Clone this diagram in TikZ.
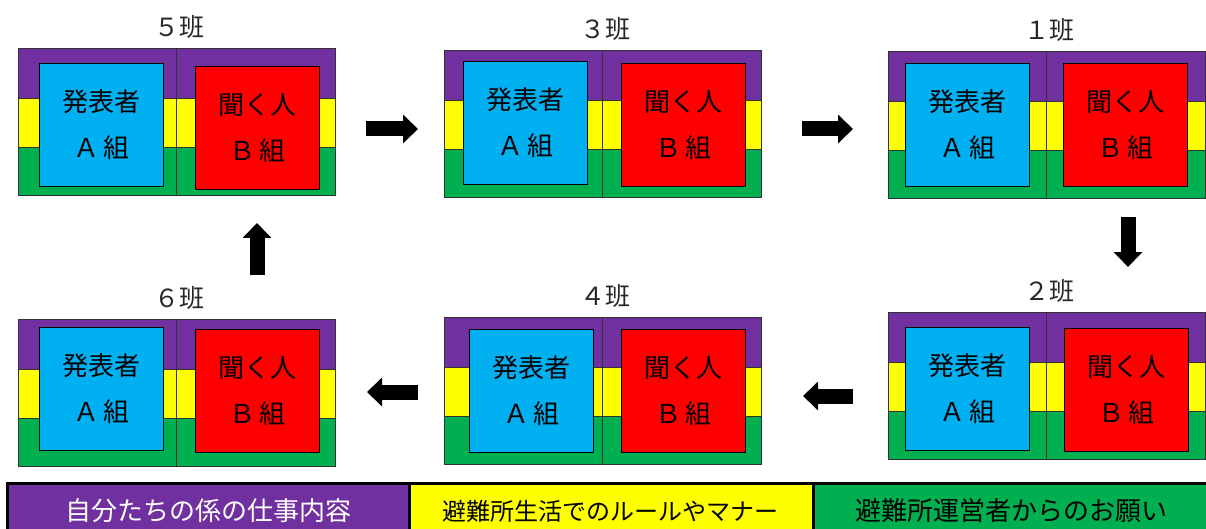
\documentclass[tikz,border=0pt]{standalone}
\usepackage{fontspec}
\setmainfont{Noto Sans CJK JP}
\usetikzlibrary{arrows.meta}
\definecolor{cpur}{HTML}{7030A0}
\definecolor{cyel}{HTML}{FFFF00}
\definecolor{cgrn}{HTML}{00B050}
\definecolor{cblu}{HTML}{00B0F0}
\definecolor{cred}{HTML}{FF0000}
\tikzset{
  band/.style={draw=black!80, line width=0.8pt},
  inbox/.style={draw=black, line width=1.3pt, minimum width=124pt, minimum height=123pt,
    anchor=north west, inner sep=0pt, align=center, text=black,
    font=\fontsize{26}{46}\selectfont},
  grplabel/.style={text=black!85, font=\fontsize{25}{27}\selectfont, inner sep=0pt},
  bigarrow/.style={line width=15pt, -{Triangle[width=28pt,length=15pt]}},
  legbox/.style={draw=black, line width=3pt},
  legtext/.style={inner sep=0pt, font=\fontsize{26}{28}\selectfont},
}
\newcommand\twolines[2]{\raisebox{3pt}{\begin{tabular}{@{}c@{}}#1\\#2\end{tabular}}}
% id, outer x, outer y, blue x, blue y, red x, red y, label
\newcommand\bangroup[8]{%
  \foreach \hx in {0,158}{%
    \draw[band, fill=cpur] ({#2+\hx},#3) rectangle ++(159,50);
    \draw[band, fill=cyel] ({#2+\hx},{#3+50}) rectangle ++(159,49);
    \draw[band, fill=cgrn] ({#2+\hx},{#3+99}) rectangle ++(159,48);
  }
  \node[inbox, fill=cblu] (#1a) at (#4,#5) {\twolines{発表者}{Ａ\hspace{4pt}組}};
  \node[inbox, fill=cred] (#1b) at (#6,#7) {\twolines{聞く人}{Ｂ\hspace{4pt}組}};
  \node[grplabel] (#1t) at ({#2+161},{#3-21}) {#8};
}
\begin{document}
\begin{tikzpicture}[x=1pt,y=-1pt]
\useasboundingbox[fill=white] (0,0) rectangle (1206,529);
\bangroup{g5}{18}{48}{39}{63}{195}{66}{５班}
\bangroup{g3}{444}{50}{463}{61}{621}{63}{３班}
\bangroup{g1}{888}{51}{905}{63}{1063}{63}{１班}
\bangroup{g2}{888}{312}{905}{327}{1064}{328}{２班}
\bangroup{g6}{18}{319}{39}{327}{195}{329}{６班}
\bangroup{g4}{444}{317}{469}{329}{621}{329}{４班}
% arrows
\coordinate (a1s) at (366,129);  \coordinate (a1e) at (418,129);
\coordinate (a2s) at (802,129);  \coordinate (a2e) at (853,129);
\coordinate (a3s) at (1128,217); \coordinate (a3e) at (1128,267);
\coordinate (a4s) at (853,396);  \coordinate (a4e) at (803,396);
\coordinate (a5s) at (418,392);  \coordinate (a5e) at (367,392);
\coordinate (a6s) at (257,275);  \coordinate (a6e) at (257,223);
\draw[bigarrow] (a1s) -- (a1e);
\draw[bigarrow] (a2s) -- (a2e);
\draw[bigarrow] (a3s) -- (a3e);
\draw[bigarrow] (a4s) -- (a4e);
\draw[bigarrow] (a5s) -- (a5e);
\draw[bigarrow] (a6s) -- (a6e);
% legend
\draw[legbox, fill=cpur] (7,483) rectangle (409,540);
\draw[legbox, fill=cyel] (409,483) rectangle (813,540);
\draw[legbox, fill=cgrn] (813,483) rectangle (1212,540);
\node[legtext, text=white] (l1) at (208,511) {自分たちの係の仕事内容};
\node[legtext, text=black, font=\fontsize{24}{28}\selectfont] (l2) at (610,511) {避難所生活でのルールやマナー};
\node[legtext, text=black] (l3) at (1011,511) {避難所運営者からのお願い};
\end{tikzpicture}
\end{document}
